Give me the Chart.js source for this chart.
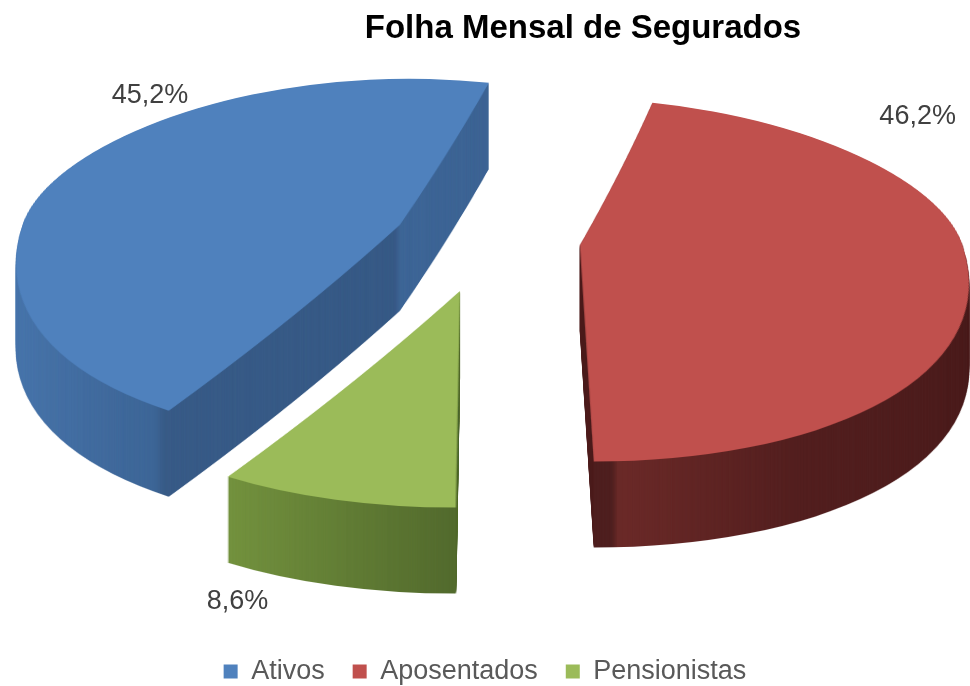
<!DOCTYPE html>
<html>
<head>
<meta charset="utf-8">
<script src="https://cdn.jsdelivr.net/npm/chart.js@4.4.1/dist/chart.umd.min.js"></script>
<style>
  html, body { margin: 0; padding: 0; background: #fff; }
  #wrap { width: 970px; height: 686px; position: relative; }
</style>
</head>
<body>
<div id="wrap"><canvas id="chart-canvas"></canvas></div>
<script>
const chartTitle = "Folha Mensal de Segurados";
const categories = ["Ativos", "Aposentados", "Pensionistas"];
const shares = [45.2, 46.2, 8.6];
const topColors = ["#4f81bd", "#c0504d", "#9bbb59"];

// fake 3D: piecewise squash (far half flatter than near half), explode + extrude,
// rows of the top face widened toward the viewer for a bit of perspective
const CX = 486, CY = 239, RX = 380;
const FAR = 0.385, NEAR = 0.57;
const EXPLODE = 94, DEPTH = 86;
const WARP = 0.0007, WARP_Y = 235;

// side shading, [x before warp, colour]
const sideStops = [
  [[14, "#4a77ae"], [190, "#3d6697"], [199, "#385b87"], [394, "#375a86"], [400, "#3e6697"], [490, "#3d6494"]],
  [[570, "#4d1e1e"], [595, "#4f1f1f"], [600, "#6b2a28"], [760, "#531f1f"], [968, "#4a1c1c"]],
  [[255, "#75943f"], [462, "#526a2d"]]
];
// where each % label sits: fraction along the slice, extra radius
const labelAnchor = [[0.69, 40], [0.19, 93], [0.96, 74]];

function sliceTip(arc) {
  const half = (arc.startAngle + arc.endAngle) / 2;
  const dx = Math.cos(half) * EXPLODE;
  const dy = Math.sin(half) * EXPLODE;
  return { x: CX + dx, y: Math.round(CY + dy * (dy < 0 ? FAR : NEAR)) };
}

function sideFill(ctx, arc, i, tip, k) {
  const stops = sideStops[i];
  const x0 = stops[0][0], x1 = stops[stops.length - 1][0];
  const g = ctx.createLinearGradient(arc.x + (x0 - tip.x) / k, 0, arc.x + (x1 - tip.x) / k, 0);
  stops.forEach(([x, c]) => g.addColorStop((x - x0) / (x1 - x0), c));
  return g;
}

function drawSlice(ctx, W, H, arc, fill) {
  const k = RX / arc.outerRadius;
  const tip = sliceTip(arc);
  const saved = arc.options;
  if (fill) arc.options = Object.assign({}, saved, { backgroundColor: fill });
  [[0, tip.y, FAR], [tip.y, H, NEAR]].forEach(([y0, y1, s]) => {
    ctx.save();
    ctx.beginPath();
    ctx.rect(0, y0, W, y1 - y0);
    ctx.clip();
    ctx.translate(tip.x, tip.y);
    ctx.scale(k, k * s);
    ctx.translate(-arc.x, -arc.y);
    arc.draw(ctx);
    ctx.restore();
  });
  arc.options = saved;
}

function layer(W, H) {
  const c = document.createElement("canvas");
  c.width = W;
  c.height = H;
  return c;
}

// copy row by row, rows nearer the viewer a little wider
function warpInto(ctx, src, W, H) {
  for (let y = 0; y < H; y++) {
    const f = 1 + WARP * (y - WARP_Y);
    ctx.drawImage(src, 0, y, W, 1, CX - f * CX, y, W * f, 1);
  }
}

const pie3d = {
  id: "pie3d",
  beforeDatasetsDraw(chart) {
    const ctx = chart.ctx;
    const W = chart.width, H = chart.height;
    const arcs = chart.getDatasetMeta(0).data;

    // side: the warped face in side colours, stacked downwards
    const flat = layer(W, H), fctx = flat.getContext("2d");
    arcs.forEach((arc, i) => {
      const fill = sideFill(fctx, arc, i, sliceTip(arc), RX / arc.outerRadius);
      drawSlice(fctx, W, H, arc, fill);
    });
    const side = layer(W, H);
    warpInto(side.getContext("2d"), flat, W, H);
    for (let d = DEPTH; d > 0; d--) ctx.drawImage(side, 0, d);

    // top faces
    const top = layer(W, H), tctx = top.getContext("2d");
    arcs.forEach((arc) => drawSlice(tctx, W, H, arc, null));
    warpInto(ctx, top, W, H);

    // percentage labels
    ctx.save();
    ctx.font = "27px 'Liberation Sans', Arial, sans-serif";
    ctx.fillStyle = "#404040";
    ctx.textAlign = "center";
    ctx.textBaseline = "middle";
    const total = shares.reduce((s, v) => s + v, 0);
    arcs.forEach((arc, i) => {
      const tip = sliceTip(arc);
      const [f, pad] = labelAnchor[i];
      const a = arc.startAngle + f * (arc.endAngle - arc.startAngle);
      const r = RX + pad;
      const sn = Math.sin(a);
      const x = tip.x + 2 + Math.cos(a) * r;
      const y = tip.y + sn * r * (sn < 0 ? FAR : NEAR) + (sn > 0 ? DEPTH : 0);
      const txt = (shares[i] / total * 100).toFixed(1).replace(".", ",") + "%";
      ctx.fillText(txt, x, y);
    });
    ctx.restore();
    return false;
  },
  afterDraw(chart) {
    const ctx = chart.ctx;
    ctx.save();
    ctx.font = "bold 33px 'Liberation Sans', Arial, sans-serif";
    ctx.fillStyle = "#000";
    ctx.textAlign = "center";
    ctx.textBaseline = "alphabetic";
    ctx.fillText(chartTitle, 583, 38);
    ctx.restore();
  }
};

const chartData = {
  labels: categories,
  datasets: [{
    data: shares,
    backgroundColor: topColors,
    borderWidth: 0,
    offset: 0
  }]
};

const options = {
  responsive: true,
  maintainAspectRatio: false,
  animation: false,
  events: [],
  rotation: -149,
  layout: { padding: { top: 60, bottom: -9, left: 20, right: 20 } },
  plugins: {
    title: { display: false },
    tooltip: { enabled: false },
    legend: {
      position: "bottom",
      labels: {
        boxWidth: 14,
        boxHeight: 14,
        padding: 28,
        color: "#595959",
        font: { family: "'Liberation Sans', Arial, sans-serif", size: 27 }
      }
    }
  }
};

new Chart(document.getElementById("chart-canvas"), {
  type: "pie",
  data: chartData,
  options: options,
  plugins: [pie3d]
});
</script>
</body>
</html>
